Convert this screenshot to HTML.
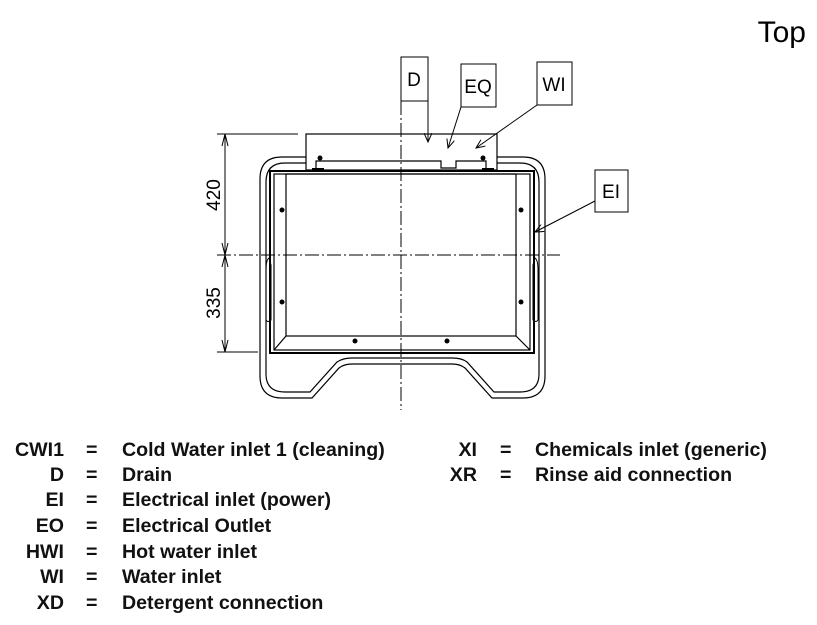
<!DOCTYPE html>
<html><head><meta charset="utf-8"><style>
body{margin:0;background:#fff;width:817px;height:625px;overflow:hidden}
svg{display:block}
.t{font-family:"Liberation Sans",sans-serif;font-weight:bold;font-size:19.6px;fill:#111}
.b{font-family:"Liberation Sans",sans-serif;font-size:19px;fill:#000}
</style></head><body>
<svg width="817" height="625" viewBox="0 0 817 625" xmlns="http://www.w3.org/2000/svg">
<defs><marker id="a" markerWidth="10" markerHeight="8" refX="9" refY="4" orient="auto" markerUnits="userSpaceOnUse"><path d="M0,0 L9,4 L0,8" fill="none" stroke="#000" stroke-width="1"/></marker></defs>
<text x="806" y="42" text-anchor="end" font-family="Liberation Sans,sans-serif" font-size="30" fill="#000">Top</text>
<g fill="none" stroke="#000" stroke-width="1.2">
<path d="M282,157 H523 Q545,157 545,179 V376 Q545,398 523,398 H492 L465,368 Q460,364 452,364 H352 Q344,364 339,368 L312,398 H282 Q260,398 260,376 V179 Q260,157 282,157 Z"/>
<path d="M285,163 H520 Q539,163 539,182 V374 Q539,392 520,392 H494 L467,362 Q462,358 452,358 H352 Q343,358 337,362 L310,392 H285 Q266,392 266,374 V182 Q266,163 285,163 Z"/>
<rect x="270" y="171" width="264" height="182" stroke-width="2"/>
<rect x="274" y="174" width="256" height="176"/>
<rect x="286" y="174" width="230" height="162"/>
<line x1="274" y1="350" x2="286" y2="336"/><line x1="530" y1="350" x2="516" y2="336"/>
<rect x="306" y="134" width="191" height="36" fill="#fff"/>
<path d="M316,170 V161 H441 V168 H456 V161 H486 V170"/>
<path d="M269,258 Q266,260 266,270 V320 Q268,323 271,320 V265Z" stroke-width="1"/>
<path d="M535,258 Q538,260 538,270 V320 Q536,323 533,320 V265Z" stroke-width="1"/>
</g>
<g fill="#000">
<circle cx="282" cy="210" r="2.5"/><circle cx="282" cy="302" r="2.5"/><circle cx="521" cy="210" r="2.5"/><circle cx="521" cy="302" r="2.5"/>
<circle cx="355" cy="341" r="2.5"/><circle cx="447" cy="341" r="2.5"/><circle cx="320" cy="158" r="2.5"/><circle cx="483" cy="158" r="2.5"/>
<rect x="312" y="168" width="12" height="3"/><rect x="482" y="168" width="12" height="3"/>
</g>
<line x1="401" y1="57" x2="401" y2="410" stroke="#000" stroke-width="1" stroke-dasharray="14,3,2,3"/>
<line x1="217" y1="255" x2="560" y2="255" stroke="#000" stroke-width="1" stroke-dasharray="14,3,2,3"/>
<g stroke="#000" stroke-width="1" fill="none">
<line x1="217" y1="134" x2="298" y2="134"/><line x1="217" y1="352" x2="258" y2="352"/>
<line x1="225" y1="134" x2="225" y2="352"/>
<path d="M222,146 L225,134 L228,146 M222,243 L225,255 L228,243 M222,267 L225,255 L228,267 M222,340 L225,352 L228,340"/>
</g>
<text class="b" transform="translate(220,195) rotate(-90)" text-anchor="middle">420</text>
<text class="b" transform="translate(220,303) rotate(-90)" text-anchor="middle">335</text>
<g stroke="#000" stroke-width="1" fill="#fff">
<rect x="401" y="57" width="27" height="44"/><rect x="461" y="64" width="35" height="43"/>
<rect x="537" y="62" width="35" height="43"/><rect x="595" y="170" width="33" height="42"/>
</g>
<g stroke="#000" stroke-width="1" marker-end="url(#a)">
<line x1="428" y1="101" x2="428" y2="142"/>
<line x1="461" y1="107" x2="448" y2="148"/>
<line x1="537" y1="105" x2="476" y2="148"/>
<line x1="595" y1="201" x2="535" y2="232"/>
</g>
<g font-family="Liberation Sans,sans-serif" font-size="19" fill="#000" text-anchor="middle">
<text x="414" y="86">D</text><text x="478" y="93">EQ</text><text x="554" y="91">WI</text><text x="611" y="198">EI</text>
</g>
<g class="t">
<g text-anchor="end"><text x="64" y="456">CWI1</text><text x="64" y="481">D</text><text x="64" y="506">EI</text><text x="64" y="532">EO</text><text x="64" y="558">HWI</text><text x="64" y="583">WI</text><text x="64" y="609">XD</text>
<text x="477" y="456">XI</text><text x="477" y="481">XR</text></g>
<g><text x="86" y="456">=</text><text x="86" y="481">=</text><text x="86" y="506">=</text><text x="86" y="532">=</text><text x="86" y="558">=</text><text x="86" y="583">=</text><text x="86" y="609">=</text><text x="500" y="456">=</text><text x="500" y="481">=</text></g>
<text x="122" y="456">Cold Water inlet 1 (cleaning)</text><text x="122" y="481">Drain</text><text x="122" y="506">Electrical inlet (power)</text><text x="122" y="532">Electrical Outlet</text><text x="122" y="558">Hot water inlet</text><text x="122" y="583">Water inlet</text><text x="122" y="609">Detergent connection</text>
<text x="535" y="456">Chemicals inlet (generic)</text><text x="535" y="481">Rinse aid connection</text>
</g>
</svg>
</body></html>
